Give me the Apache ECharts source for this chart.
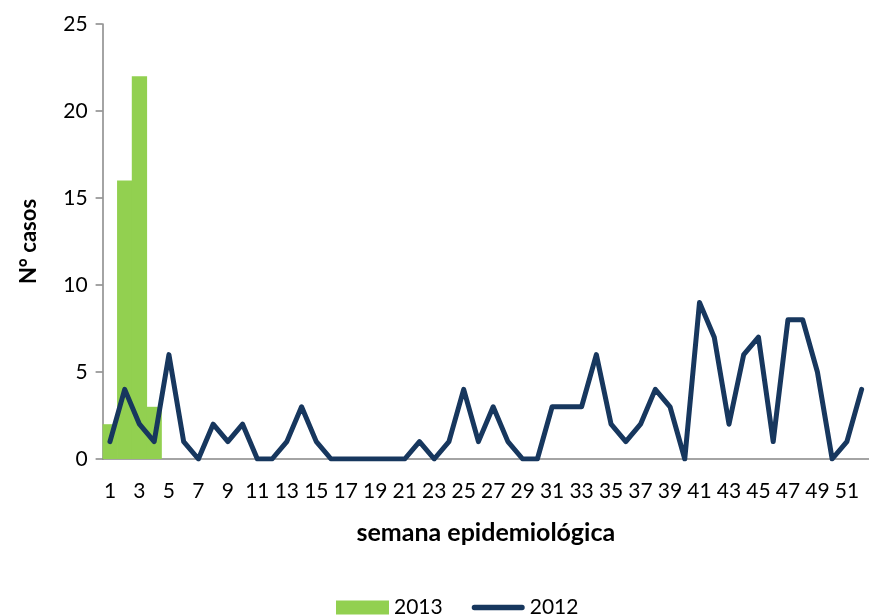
<!DOCTYPE html>
<html><head><meta charset="utf-8">
<script src="https://cdn.jsdelivr.net/npm/echarts@6/dist/echarts.min.js"></script>
<style>html,body{margin:0;padding:0;background:#fff}#c{width:869px;height:616px}</style>
</head><body><div id="c"></div>
<script>
const weeks = Array.from({length: 52}, (_, i) => String(i + 1));
const cases2013 = [2, 16, 22, 3];
const cases2012 = [1,4,2,1,6,1,0,2,1,2,0,0,1,3,1,0,0,0,0,0,0,1,0,1,4,1,3,1,0,0,3,3,3,6,2,1,2,4,3,0,9,7,2,6,7,1,8,8,5,0,1,4];
const yTicks = [0, 5, 10, 15, 20, 25];
const font = 'Lato, "Open Sans", sans-serif';
const chart = echarts.init(document.getElementById('c'));
chart.setOption({
  animation: false,
  textStyle: {fontFamily: font, color: '#000'},
  grid: {left: 102.6, right: -5.5, top: 24, bottom: 157, containLabel: false},
  legend: {
    top: 592, left: 331, itemGap: 29, itemWidth: 53, itemHeight: 14,
    textStyle: {fontSize: 21, color: '#000', fontFamily: font},
    data: [
      {name: '2013', icon: 'rect'},
      {name: '2012', icon: 'path://M2.5,0 H47.5 A2.5,2.5 0 0 1 47.5,5 H2.5 A2.5,2.5 0 0 1 2.5,0 Z'}
    ]
  },
  xAxis: {
    type: 'category', data: weeks,
    name: 'semana epidemiológica', nameLocation: 'middle', nameGap: 61,
    nameTextStyle: {fontSize: 25, fontWeight: 'bold', color: '#000', fontFamily: font, padding: [0, 0, 0, 0]},
    axisLine: {lineStyle: {color: '#868686', width: 1.5}},
    axisTick: {show: false},
    axisLabel: {interval: 1, fontSize: 21, color: '#000', margin: 22, fontFamily: font}
  },
  yAxis: {
    type: 'value', min: 0, max: 25, interval: 5,
    name: 'N° casos', nameLocation: 'middle', nameGap: 63,
    nameTextStyle: {fontSize: 22, fontWeight: 'bold', color: '#000', fontFamily: font},
    axisLine: {show: true, lineStyle: {color: '#868686', width: 1.5}},
    axisTick: {show: true, length: 7, lineStyle: {color: '#868686', width: 1.5}},
    splitLine: {show: false},
    axisLabel: {fontSize: 21, color: '#000', margin: 15, fontFamily: font,
      formatter: v => yTicks.includes(v) ? String(v) : ''}
  },
  series: [
    {name: '2013', type: 'bar', data: cases2013, barCategoryGap: '0%', barWidth: 15.3,
     itemStyle: {color: '#92D050'}},
    {name: '2012', type: 'line', data: cases2012, symbol: 'none',
     lineStyle: {color: '#17375E', width: 5, join: 'round', cap: 'round'},
     itemStyle: {color: '#17375E'}}
  ]
});
</script></body></html>
